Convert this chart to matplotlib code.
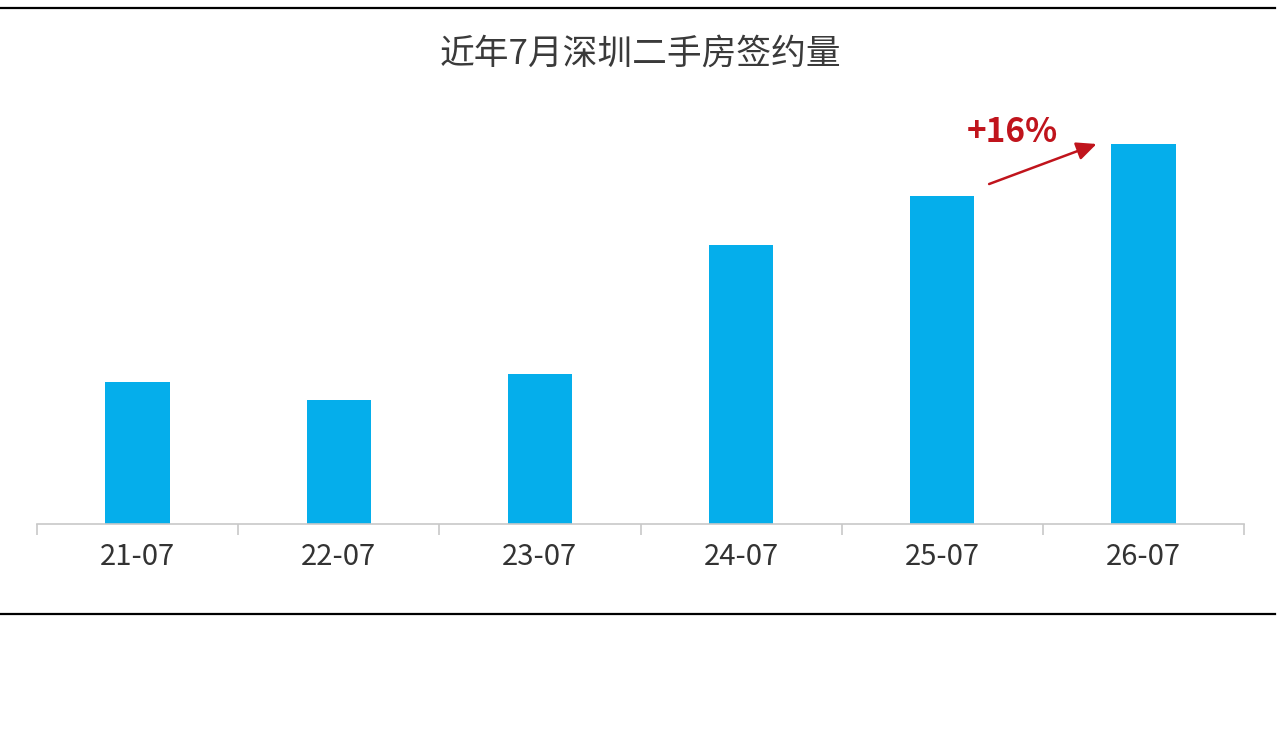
import matplotlib.pyplot as plt
from matplotlib.lines import Line2D

plt.rcParams['font.family'] = ['Noto Sans CJK SC', 'DejaVu Sans']

## data (no y axis shown, relative units)
months = ['21-07', '22-07', '23-07', '24-07', '25-07', '26-07']
volume = [142, 124, 150, 279, 328, 380]
title = '近年7月深圳二手房签约量'
growth_label = '+16%'

bar_color = '#05AEEB'
axis_color = '#C8C8C8'


def main():
    fig = plt.figure(figsize=(12.8, 7.29), dpi=100)
    ax = fig.add_axes([37 / 1280, 1 - 524 / 729, 1207 / 1280, 424 / 729])

    x = range(len(months))
    ax.bar(x, volume, width=0.32, color=bar_color, zorder=2)
    ax.set_xlim(-0.5, len(months) - 0.5)
    ax.set_ylim(0, 424)

    for side in ['top', 'right', 'left']:
        ax.spines[side].set_visible(False)
    ax.spines['bottom'].set_color(axis_color)
    ax.spines['bottom'].set_linewidth(1.2)
    ax.set_yticks([])

    # labels centred, ticks on category boundaries
    ax.set_xticks(list(x))
    ax.set_xticklabels(months, fontsize=21, color='#333333', fontweight='light')
    ax.tick_params(axis='x', which='major', length=0, pad=13)
    ax.set_xticks([i - 0.5 for i in range(len(months) + 1)], minor=True)
    ax.tick_params(axis='x', which='minor', length=8, width=1.2, color=axis_color, direction='out')

    # growth arrow from 25-07 to 26-07
    last = len(months) - 1
    ax.annotate('', xy=(last - 0.22, volume[last] + 1), xytext=(last - 0.78, volume[last - 1] + 11),
                arrowprops=dict(arrowstyle='-|>,head_length=1.2,head_width=0.55', color='#C0141C', lw=1.8))
    ax.text(last - 0.65, volume[last] + 12, growth_label, fontsize=24, fontweight='bold',
            color='#C0141C', ha='center', va='center')

    fig.text(0.5, 1 - 54 / 729, title, fontsize=25, color='#3A3A3A', fontweight='medium',
             ha='center', va='center')

    # black rules above and below
    fig.add_artist(Line2D([0, 0.996], [1 - 8 / 729, 1 - 8 / 729], color='black', lw=1.6, transform=fig.transFigure))
    fig.add_artist(Line2D([0, 0.996], [1 - 614 / 729, 1 - 614 / 729], color='black', lw=1.6, transform=fig.transFigure))

    plt.savefig('out.png', dpi=100)


main()
